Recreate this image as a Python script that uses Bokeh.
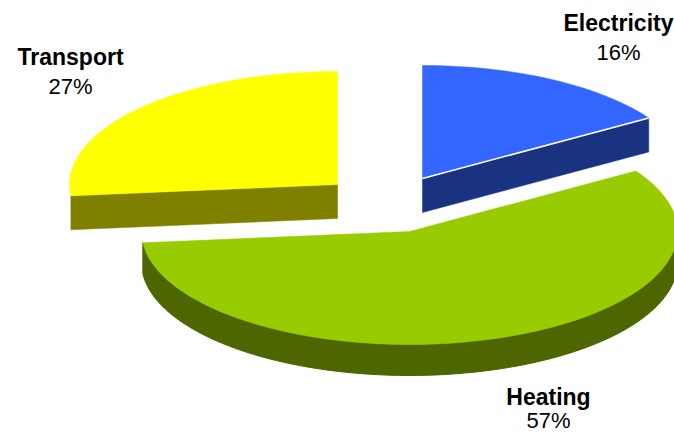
import math
from bokeh.plotting import figure
from bokeh.models import Range1d
from bokeh.core.properties import value
from bokeh.embed import file_html
from bokeh.resources import INLINE

# Data
categories = ["Electricity", "Heating", "Transport"]
shares = [16.0, 57.4, 26.6]
top_colors = ["#3366FF", "#99CC00", "#FFFF00"]
side_colors = ["#1A3380", "#4D6600", "#808000"]

# Placement of the exploded slices and labels (screen pixels)
centers = [(422, 178), (409, 231), (337, 184)]
depths = [34, 31, 34]
label_pos = [(618, 22), (548, 396), (70, 56)]
pct_pos = [(618, 52), (548, 420), (70, 86)]

RX, RY = 268, 113
W, H = 674, 434

p = figure(width=W, height=H, output_backend="svg", toolbar_location=None,
           x_range=Range1d(0, W), y_range=Range1d(H, 0), min_border=0,
           x_axis_location=None, y_axis_location=None, outline_line_color=None,
           background_fill_color="white", border_fill_color="white")
p.grid.visible = False


def pt(c, a, dy=0):
    return c[0] + RX * math.sin(a), c[1] - RY * math.cos(a) + dy


def arc(c, a0, a1, dy=0, step=math.radians(2)):
    n = max(2, int(abs(a1 - a0) / step) + 1)
    return [pt(c, a0 + (a1 - a0) * i / (n - 1), dy) for i in range(n)]


total = sum(shares)
a = 0.0
for cat, s, c, d, top, side in zip(categories, shares, centers, depths, top_colors, side_colors):
    a0, a1 = a, a + 2 * math.pi * s / total
    a = a1
    # outer rim: only the front half (pi/2 .. 3pi/2) shows; slivers are dropped
    lo, hi = max(a0, math.pi / 2), min(a1, 3 * math.pi / 2)
    if hi - lo > 0.2:
        poly = arc(c, lo, hi) + arc(c, hi, lo, d)
        p.patch([q[0] for q in poly], [q[1] for q in poly], fill_color=side, line_color=side, line_width=1)
    # radial cut faces that look towards the viewer
    for ang, visible in ((a0, math.sin(a0) < -1e-9), (a1, math.sin(a1) > 1e-9)):
        if visible:
            e = pt(c, ang)
            xs = [c[0], e[0], e[0], c[0]]
            ys = [c[1], e[1], e[1] + d, c[1] + d]
            p.patch(xs, ys, fill_color=side, line_color=side, line_width=0.5)
    # top surface
    r = arc(c, a0, a1)
    xs = [c[0]] + [q[0] for q in r]
    ys = [c[1]] + [q[1] for q in r]
    p.patch(xs, ys, fill_color=top, line_color=top, line_width=0.5)
    if cat == "Electricity":
        e = pt(c, a1)
        p.line([c[0], e[0]], [c[1], e[1]], line_color="white", line_width=1.5)

p.text([q[0] for q in label_pos], [q[1] for q in label_pos], text=categories,
       text_font=value("Liberation Sans"), text_font_style="bold", text_font_size="23px",
       text_align="center", text_baseline="middle", text_color="#000000")
p.text([q[0] for q in pct_pos], [q[1] for q in pct_pos], text=[f"{round(s)}%" for s in shares],
       text_font=value("Liberation Sans"), text_font_size="22px",
       text_align="center", text_baseline="middle", text_color="#000000")

open("out.html", "w").write(file_html(p, INLINE))
